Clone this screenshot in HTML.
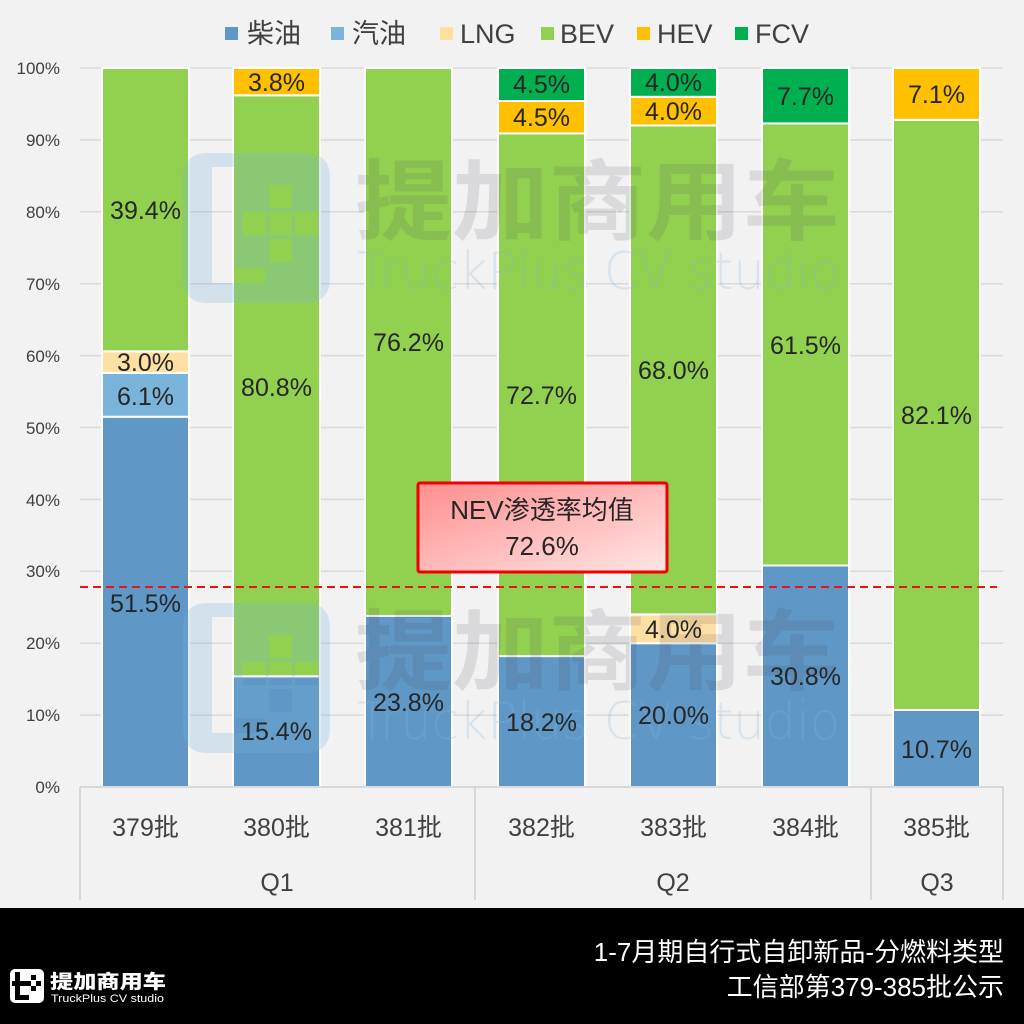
<!DOCTYPE html>
<html>
<head>
<meta charset="utf-8">
<style>
html,body{margin:0;padding:0;background:#f2f2f2;}
svg{display:block;}
text{font-family:"Liberation Sans","Noto Sans CJK SC",sans-serif;}
</style>
</head>
<body>
<svg width="1024" height="1024" viewBox="0 0 1024 1024" xmlns="http://www.w3.org/2000/svg">
<defs>
<linearGradient id="cg" x1="0" y1="0" x2="1" y2="1">
<stop offset="0" stop-color="#ff8e8e"/>
<stop offset="1" stop-color="#ffe6e6"/>
</linearGradient>
</defs>
<rect width="1024" height="1024" fill="#f2f2f2"/>

<!-- gridlines -->
<g stroke="#d9d9d9" stroke-width="1.5">
<line x1="80" y1="68" x2="1003" y2="68"/>
<line x1="80" y1="139.9" x2="1003" y2="139.9"/>
<line x1="80" y1="211.8" x2="1003" y2="211.8"/>
<line x1="80" y1="283.7" x2="1003" y2="283.7"/>
<line x1="80" y1="355.6" x2="1003" y2="355.6"/>
<line x1="80" y1="427.5" x2="1003" y2="427.5"/>
<line x1="80" y1="499.4" x2="1003" y2="499.4"/>
<line x1="80" y1="571.3" x2="1003" y2="571.3"/>
<line x1="80" y1="643.2" x2="1003" y2="643.2"/>
<line x1="80" y1="715.1" x2="1003" y2="715.1"/>
</g>

<!-- y tick labels -->
<g font-size="17" fill="#404040" text-anchor="end">
<text x="60" y="74">100%</text>
<text x="60" y="146">90%</text>
<text x="60" y="218">80%</text>
<text x="60" y="290">70%</text>
<text x="60" y="362">60%</text>
<text x="60" y="434">50%</text>
<text x="60" y="506">40%</text>
<text x="60" y="577">30%</text>
<text x="60" y="649">20%</text>
<text x="60" y="721">10%</text>
<text x="60" y="793">0%</text>
</g>

<!-- bars -->
<g stroke="#ffffff" stroke-width="2">
<rect x="102" y="416.7" width="87" height="370.3" fill="#5f97c6"/>
<rect x="102" y="372.9" width="87" height="43.8" fill="#7ab4da"/>
<rect x="102" y="351.3" width="87" height="21.6" fill="#ffe0a3"/>
<rect x="102" y="68" width="87" height="283.3" fill="#92d050"/>
<rect x="233" y="676.3" width="87" height="110.7" fill="#5f97c6"/>
<rect x="233" y="95.3" width="87" height="581" fill="#92d050"/>
<rect x="233" y="68" width="87" height="27.3" fill="#ffc000"/>
<rect x="365" y="615.9" width="87" height="171.1" fill="#5f97c6"/>
<rect x="365" y="68" width="87" height="547.9" fill="#92d050"/>
<rect x="498" y="656.1" width="87" height="130.9" fill="#5f97c6"/>
<rect x="498" y="133.4" width="87" height="522.7" fill="#92d050"/>
<rect x="498" y="101" width="87" height="32.4" fill="#ffc000"/>
<rect x="498" y="68" width="87" height="33" fill="#00b050"/>
<rect x="630" y="643.2" width="87" height="143.8" fill="#5f97c6"/>
<rect x="630" y="614.4" width="87" height="28.8" fill="#ffe0a3"/>
<rect x="630" y="125.5" width="87" height="488.9" fill="#92d050"/>
<rect x="630" y="96.8" width="87" height="28.7" fill="#ffc000"/>
<rect x="630" y="68" width="87" height="28.8" fill="#00b050"/>
<rect x="762" y="565.5" width="87" height="221.5" fill="#5f97c6"/>
<rect x="762" y="123.4" width="87" height="442.1" fill="#92d050"/>
<rect x="762" y="68" width="87" height="55.4" fill="#00b050"/>
<rect x="893" y="710" width="87" height="77" fill="#5f97c6"/>
<rect x="893" y="119.8" width="87" height="590.2" fill="#92d050"/>
<rect x="893" y="68" width="87" height="51.8" fill="#ffc000"/>
</g>

<!-- watermarks -->
<g>
<path fill-rule="evenodd" fill="rgba(120,175,220,0.25)" d="M208,153 H305 Q330,153 330,178 V278 Q330,303 305,303 H208 Q183,303 183,278 V178 Q183,153 208,153 Z M212,167 H235 V268 H265 V283 H212 Z M269,185 h23 v23 h-23 Z M243,212 h23 v23 h-23 Z M269,212 h23 v23 h-23 Z M295,212 h23 v23 h-23 Z M269,239 h23 v23 h-23 Z"/>
<text x="355" y="233" font-size="88" font-weight="700" fill="rgba(80,80,95,0.15)" textLength="485" lengthAdjust="spacingAndGlyphs" style="font-family:'Noto Sans CJK SC',sans-serif">提加商用车</text>
<text x="357" y="289" font-size="52" fill="rgba(130,185,225,0.25)" textLength="483" lengthAdjust="spacingAndGlyphs" style="font-family:'DejaVu Sans','Liberation Sans',sans-serif;font-weight:200">TruckPlus CV studio</text>
</g>
<g transform="translate(0,450)">
<path fill-rule="evenodd" fill="rgba(120,175,220,0.25)" d="M208,153 H305 Q330,153 330,178 V278 Q330,303 305,303 H208 Q183,303 183,278 V178 Q183,153 208,153 Z M212,167 H235 V268 H265 V283 H212 Z M269,185 h23 v23 h-23 Z M243,212 h23 v23 h-23 Z M269,212 h23 v23 h-23 Z M295,212 h23 v23 h-23 Z M269,239 h23 v23 h-23 Z"/>
<text x="355" y="233" font-size="88" font-weight="700" fill="rgba(80,80,95,0.15)" textLength="485" lengthAdjust="spacingAndGlyphs" style="font-family:'Noto Sans CJK SC',sans-serif">提加商用车</text>
<text x="357" y="289" font-size="52" fill="rgba(130,185,225,0.25)" textLength="483" lengthAdjust="spacingAndGlyphs" style="font-family:'DejaVu Sans','Liberation Sans',sans-serif;font-weight:200">TruckPlus CV studio</text>
</g>

<!-- data labels -->
<g font-size="25" fill="#262626" text-anchor="middle">
<text x="145.5" y="219">39.4%</text>
<text x="145.5" y="371">3.0%</text>
<text x="145.5" y="405">6.1%</text>
<text x="145.5" y="612">51.5%</text>
<text x="276.5" y="91">3.8%</text>
<text x="276.5" y="396">80.8%</text>
<text x="276.5" y="740">15.4%</text>
<text x="408.5" y="351">76.2%</text>
<text x="408.5" y="711">23.8%</text>
<text x="541.5" y="93">4.5%</text>
<text x="541.5" y="126">4.5%</text>
<text x="541.5" y="404">72.7%</text>
<text x="541.5" y="731">18.2%</text>
<text x="673.5" y="91">4.0%</text>
<text x="673.5" y="120">4.0%</text>
<text x="673.5" y="379">68.0%</text>
<text x="673.5" y="638">4.0%</text>
<text x="673.5" y="724">20.0%</text>
<text x="805.5" y="105">7.7%</text>
<text x="805.5" y="354">61.5%</text>
<text x="805.5" y="685">30.8%</text>
<text x="936.5" y="103">7.1%</text>
<text x="936.5" y="424">82.1%</text>
<text x="936.5" y="758">10.7%</text>
</g>

<!-- dashed mean line -->
<line x1="80" y1="587" x2="997" y2="587" stroke="#e81414" stroke-width="2" stroke-dasharray="8,5"/>

<!-- callout -->
<rect x="418" y="483" width="249" height="89" rx="2" fill="url(#cg)" stroke="#f00000" stroke-width="3"/>
<g font-size="26" fill="#262626" text-anchor="middle">
<text x="542" y="519">NEV渗透率均值</text>
<text x="542" y="555">72.6%</text>
</g>

<!-- x axis -->
<g stroke="#d0d0d0" stroke-width="1.5">
<line x1="80" y1="787" x2="1003" y2="787"/>
<line x1="80" y1="787" x2="80" y2="900"/>
<line x1="475" y1="787" x2="475" y2="900"/>
<line x1="871" y1="787" x2="871" y2="900"/>
<line x1="1003" y1="787" x2="1003" y2="900"/>
</g>
<g font-size="25" fill="#404040" text-anchor="middle">
<text x="145.5" y="836">379批</text>
<text x="276.5" y="836">380批</text>
<text x="408.5" y="836">381批</text>
<text x="541.5" y="836">382批</text>
<text x="673.5" y="836">383批</text>
<text x="805.5" y="836">384批</text>
<text x="936.5" y="836">385批</text>
<text x="277" y="891">Q1</text>
<text x="673" y="891">Q2</text>
<text x="937" y="891">Q3</text>
</g>

<!-- legend -->
<g font-size="27" fill="#404040">
<rect x="225" y="27" width="13" height="13" fill="#5f97c6"/>
<text x="247" y="43">柴油</text>
<rect x="331" y="27" width="13" height="13" fill="#7ab4da"/>
<text x="352" y="43">汽油</text>
<rect x="440" y="27" width="13" height="13" fill="#ffe0a3"/>
<text x="460" y="43">LNG</text>
<rect x="541" y="27" width="13" height="13" fill="#92d050"/>
<text x="560" y="43">BEV</text>
<rect x="637" y="27" width="13" height="13" fill="#ffc000"/>
<text x="657" y="43">HEV</text>
<rect x="735" y="27" width="13" height="13" fill="#00b050"/>
<text x="755" y="43">FCV</text>
</g>

<!-- bottom band -->
<rect x="0" y="908" width="1024" height="116" fill="#000000"/>
<g font-size="26" fill="#ffffff" text-anchor="end">
<text x="1004" y="961">1-7月期自行式自卸新品-分燃料类型</text>
<text x="1004" y="996">工信部第379-385批公示</text>
</g>
<rect x="10" y="969" width="34" height="34" rx="5" fill="#ffffff"/>
<path fill="#000" d="M15,972 h5 v23 h9 v5 h-14 Z M12,981 h17 v5 h-17 Z"/>
<path fill="#000" d="M31,975 h5 v5 h-5 Z M26,981 h5 v5 h-5 Z M36,981 h5 v5 h-5 Z M31,986 h5 v5 h-5 Z"/>
<text x="50" y="988" font-size="19" font-weight="900" fill="#ffffff" textLength="116" lengthAdjust="spacingAndGlyphs" style="font-family:'Noto Sans CJK SC',sans-serif">提加商用车</text>
<text x="51" y="1002" font-size="11" fill="#ffffff" textLength="113" lengthAdjust="spacingAndGlyphs">TruckPlus CV studio</text>
</svg>
</body>
</html>
